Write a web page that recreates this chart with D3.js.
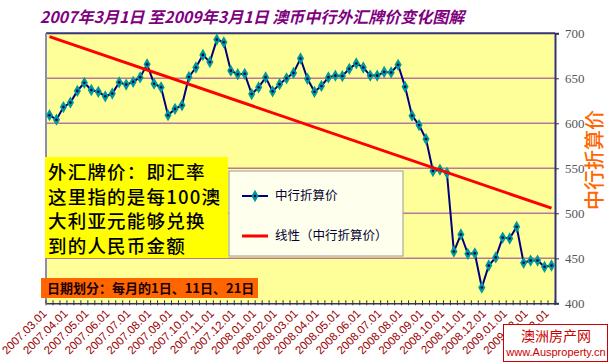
<!DOCTYPE html>
<html><head><meta charset="utf-8">
<script src="https://cdn.jsdelivr.net/npm/d3@7"></script>
<style>body{margin:0;background:#fff}svg{display:block}</style>
</head><body>
<svg id="c" width="608" height="362"></svg>
<script>
const monthLabels = ["2007.03.01","2007.04.01","2007.05.01","2007.06.01","2007.07.01","2007.08.01","2007.09.01","2007.10.01","2007.11.01","2007.12.01","2008.01.01","2008.02.01","2008.03.01","2008.04.01","2008.05.01","2008.06.01","2008.07.01","2008.08.01","2008.09.01","2008.10.01","2008.11.01","2008.12.01","2009.01.01","2009.02.01","2009.03.01"];
const daySuffix = ["01","11","21"];
const rates = [609,604,618,623,636,645,637,635,630,633,645.5,643,646,651,665.5,644,640,609,616,620,651.5,662,676,668,693,690,658.5,654.5,655,632.5,640,651,635.5,643.5,650,656,672,649.5,635,641.5,651,653,652.5,660.5,666.5,662,653,653,657,656.5,665,640.5,608.5,598,582.5,547,548.5,545,457.5,476.5,455,455.5,417.5,442,451,473,472,485,445,447.5,447.5,440.5,442];
const yTicks = [400,450,500,550,600,650,700];
const titleText = "2007年3月1日 至2009年3月1日 澳币中行外汇牌价变化图解";
const noteLines = ["外汇牌价：即汇率","这里指的是每100澳","大利亚元能够兑换","到的人民币金额"];
const dateNote = "日期划分：每月的1日、11日、21日";
const seriesName = "中行折算价";
const trendName = "线性（中行折算价）";

const categories = [];
monthLabels.forEach((m,i)=>{ daySuffix.forEach(d=>{ if(i<monthLabels.length-1 || d==="01") categories.push(m.slice(0,8)+d); }); });

const svg = d3.select("#c");
const L=46,R=555,T=33.3,B=303.3;
const x = d3.scaleBand().domain(categories).range([L,R]);
const y = d3.scaleLinear().domain([400,700]).range([B,T]);
const cx = d => x(d)+x.bandwidth()/2;
const CJK = "'Noto Sans CJK SC','Noto Sans',sans-serif";

// title
svg.append("text").attr("x",252).attr("y",23).attr("text-anchor","middle")
  .attr("font-family",CJK).attr("font-size",16).attr("font-weight","bold").attr("font-style","italic")
  .attr("fill","#800080").text(titleText);

// plot area
svg.append("rect").attr("x",L).attr("y",T).attr("width",R-L).attr("height",B-T).attr("fill","#ffff99");
svg.append("g").selectAll("line").data(yTicks.filter(v=>v>400&&v<700)).join("line")
  .attr("x1",L).attr("x2",R).attr("y1",d=>y(d)).attr("y2",d=>y(d))
  .attr("stroke","#b8789e").attr("stroke-width",1.5);
svg.append("line").attr("x1",L).attr("x2",R).attr("y1",T).attr("y2",T).attr("stroke","#33337a").attr("stroke-width",2);
svg.append("line").attr("x1",L).attr("x2",L).attr("y1",T).attr("y2",B).attr("stroke","#8c8cb0").attr("stroke-width",2);

// bottom axis
const xb = d3.axisBottom(x).tickSize(0).tickFormat("");
svg.append("g").attr("transform",`translate(0,${B})`).call(xb).call(g=>g.select(".domain").attr("stroke","#33337a").attr("stroke-width",1.5));
svg.append("g").selectAll("line").data(categories.concat(["__end"])).join("line")
  .attr("x1",(d,i)=>L+i*x.step()).attr("x2",(d,i)=>L+i*x.step())
  .attr("y1",B-3).attr("y2",B+2).attr("stroke","#333").attr("stroke-width",1);
svg.append("g").selectAll("text").data(monthLabels).join("text")
  .attr("transform",d=>`translate(${cx(d)-2},${B+11}) rotate(-45)`)
  .attr("text-anchor","end").attr("font-family","'Liberation Sans',Arial,sans-serif")
  .attr("font-size",11.5).attr("fill","#990000").text(d=>d);

// right axis
const ya = d3.axisRight(y).tickValues(yTicks).tickSize(4).tickPadding(6);
svg.append("g").attr("transform",`translate(${R},0)`).call(ya)
  .call(g=>g.select(".domain").attr("stroke","#33337a").attr("stroke-width",2))
  .call(g=>g.selectAll(".tick line").attr("stroke","#333"))
  .call(g=>g.selectAll("text").attr("font-family","'Liberation Serif','Times New Roman',serif").attr("font-size",13).attr("fill","#555"));
svg.append("text").attr("transform","translate(597,160) rotate(-90)").attr("text-anchor","middle")
  .attr("dominant-baseline","middle").attr("font-family",CJK).attr("font-size",20).attr("font-weight",500)
  .attr("fill","#ff6600").text(seriesName);

// trendline (least squares)
const n=rates.length, xs=d3.range(n);
const mx=d3.mean(xs), my=d3.mean(rates);
const slope=d3.sum(xs,i=>(i-mx)*(rates[i]-my))/d3.sum(xs,i=>(i-mx)*(i-mx));
const icpt=my-slope*mx;

// legend box
const lg = svg.append("g");
lg.append("rect").attr("x",229).attr("y",171).attr("width",174).attr("height",85).attr("fill","#ffffee").attr("stroke","#999").attr("stroke-width",1);

// series
const line = d3.line().x((d,i)=>cx(categories[i])).y(d=>y(d));
svg.append("path").datum(rates).attr("d",line).attr("fill","none").attr("stroke","#000080").attr("stroke-width",2);
const mk = svg.append("g").selectAll("g").data(rates).join("g").attr("transform",(d,i)=>`translate(${cx(categories[i])},${y(d)})`);
mk.append("path").attr("d",d3.symbol(d3.symbolDiamond,44)).attr("fill","#009999");
mk.append("circle").attr("r",1.3).attr("fill","#000060");

svg.append("line").attr("x1",cx(categories[0])).attr("x2",cx(categories[n-1]))
  .attr("y1",y(icpt)).attr("y2",y(icpt+slope*(n-1))).attr("stroke","#ff0000").attr("stroke-width",3);

// legend entries
lg.raise();
lg.append("line").attr("x1",242).attr("x2",268).attr("y1",196).attr("y2",196).attr("stroke","#000080").attr("stroke-width",2);
lg.append("path").attr("transform","translate(255,196)").attr("d",d3.symbol(d3.symbolDiamond,44)).attr("fill","#009999");
lg.append("circle").attr("cx",255).attr("cy",196).attr("r",1.3).attr("fill","#000060");
lg.append("text").attr("x",275).attr("y",200).attr("font-family",CJK).attr("font-size",12.5).attr("fill","#000033").text(seriesName);
lg.append("line").attr("x1",242).attr("x2",268).attr("y1",236).attr("y2",236).attr("stroke","#ff0000").attr("stroke-width",3);
lg.append("text").attr("x",275).attr("y",240).attr("font-family",CJK).attr("font-size",12.5).attr("fill","#000033").text(trendName);

// note box
svg.append("rect").attr("x",45).attr("y",157).attr("width",183).attr("height",101).attr("fill","#ffff00");
svg.append("g").selectAll("text").data(noteLines).join("text")
  .attr("x",48).attr("y",(d,i)=>179+i*24.5).attr("font-family",CJK).attr("font-size",18.5).attr("letter-spacing",1.2).attr("font-weight",500)
  .attr("fill","#000").text(d=>d);

// date note
svg.append("rect").attr("x",41).attr("y",278).attr("width",217).attr("height",20).attr("fill","#ff6600");
svg.append("text").attr("x",47).attr("y",293).attr("font-family",CJK).attr("font-size",13).attr("font-weight","bold")
  .attr("fill","#1a0000").text(dateNote);

// watermark
svg.append("rect").attr("x",503.5).attr("y",324.5).attr("width",104).attr("height",37).attr("fill","#fff").attr("stroke","#cc0000").attr("stroke-width",1);
svg.append("text").attr("x",556).attr("y",341).attr("text-anchor","middle").attr("font-family",CJK).attr("font-size",14).attr("fill","#cc0000").text("澳洲房产网");
svg.append("text").attr("x",556).attr("y",356).attr("text-anchor","middle").attr("font-family","'Liberation Sans',Arial,sans-serif").attr("font-size",11).attr("fill","#cc0000").text("www.Ausproperty.cn");
</script>
</body></html>
